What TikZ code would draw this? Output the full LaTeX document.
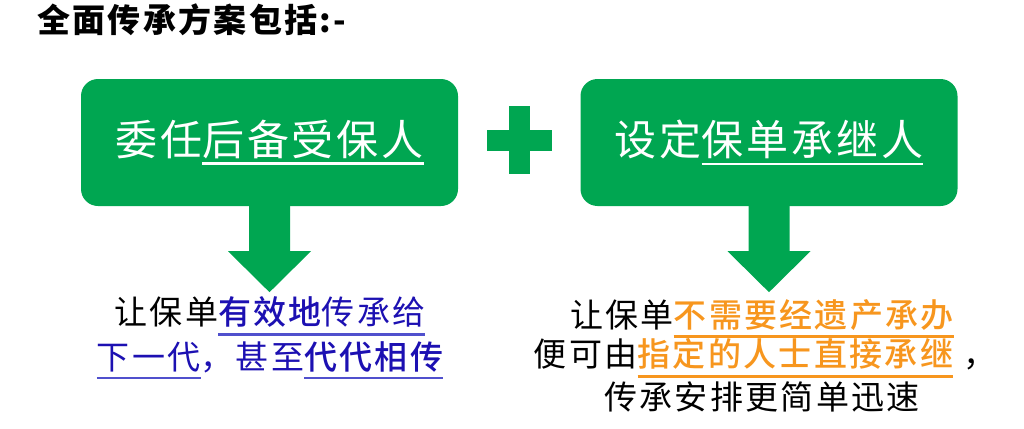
\documentclass[tikz,border=0pt]{standalone}
\usepackage{fontspec}
\setmainfont{Noto Sans CJK SC}[LetterSpace=7]
\newfontfamily\medfont{Noto Sans CJK SC Medium}[LetterSpace=7]
\usepackage{xcolor}
\usepackage{tikz}
\usetikzlibrary{calc}
\definecolor{grn}{RGB}{0,166,81}
\definecolor{blu}{RGB}{28,16,178}
\definecolor{blul}{RGB}{80,80,205}
\definecolor{org}{RGB}{247,150,30}
\newcommand{\ulpart}[3]{\setbox0\hbox{#3}\rlap{\color{#1}\rule[-#2]{\wd0}{2.5pt}}\box0}

\begin{document}
\begin{tikzpicture}[x=1pt,y=-1pt,
  box/.style={fill=grn,rounded corners=17pt,minimum width=377pt,minimum height=127pt,text=white,font=\fontsize{42}{50}\selectfont},
  txt/.style={anchor=base,inner sep=0pt,font=\fontsize{33}{40}\selectfont}]
\useasboundingbox (0,0) rectangle (1024,428);
\node[anchor=base west,inner sep=0pt,font=\bfseries\fontsize{33}{40}\selectfont] (T) at (37,33) {全面传承方案包括:-};
\node[box] (L) at (269.5,142.5) {委任\ulpart{white}{9.5pt}{后备受保人}};
\node[box] (R) at (769,142.5) {设定\ulpart{white}{9.5pt}{保单承继人}};
% plus sign
\fill[grn] (509,106) rectangle (530,174);
\fill[grn] (487,130) rectangle (552,151);
% arrows under the boxes
\foreach \b in {L,R}
  \fill[grn] ([xshift=-20.5pt,yshift=1pt]\b.south) -- ++(0,46) -- ++(-21,0) -- ++(41.5,41) -- ++(41.5,-41) -- ++(-21,0) -- ++(0,-46) -- cycle;
\node[txt] (l1) at (270,324.5) {让保单\ulpart{blul}{11pt}{{\medfont\color{blu}有效地}\color{blu}传承给}};
\node[txt] (l2) at (270,369) {\ulpart{blul}{10pt}{\color{blu}下一代}，甚至\ulpart{blul}{10pt}{{\medfont\color{blu}代代相传}}};
\node[txt] (r1) at (762,327.5) {让保单\ulpart{org}{10pt}{{\medfont\color{org}不需要经遗产承办}}};
\node[txt] (r2) at (765,366.5) {便可由\ulpart{org}{11pt}{{\medfont\color{org}指定的人士直接承继}}\kern10pt，};
\node[txt] (r3) at (762,409) {传承安排更简单迅速};
\end{tikzpicture}
\end{document}
